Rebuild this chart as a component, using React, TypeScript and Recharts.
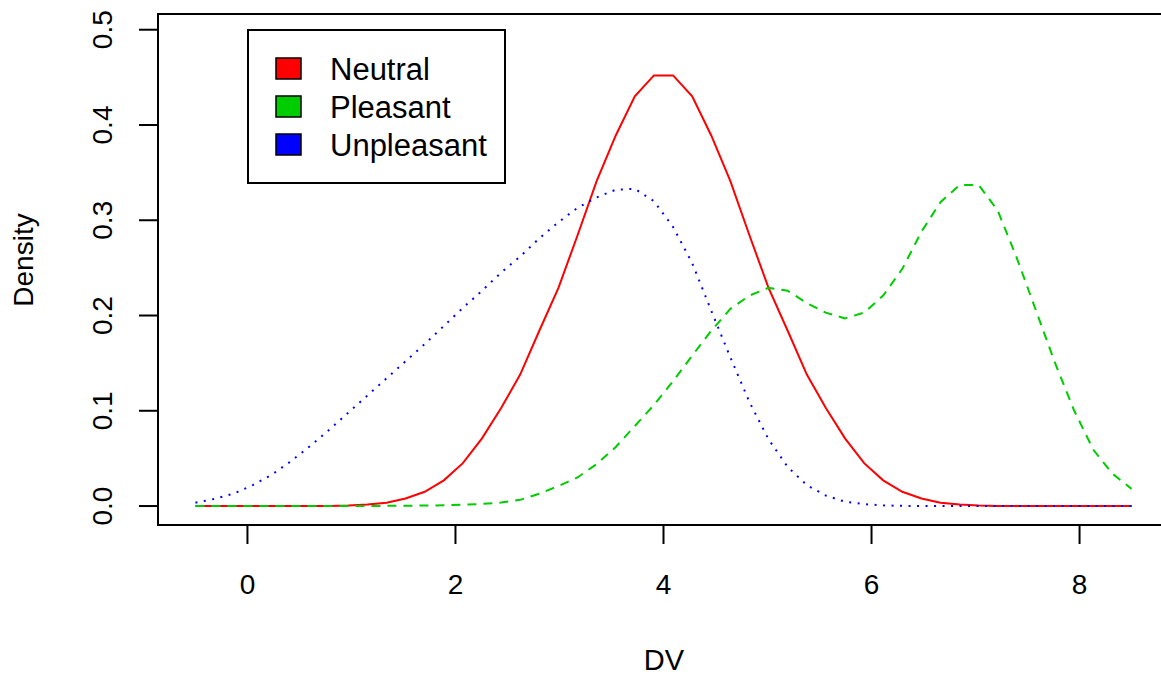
import { Line, LineChart, ReferenceArea, XAxis, YAxis } from "recharts"

// density estimates, 50 points from -0.5 to 8.5
const dv = [
  -0.5, -0.316, -0.133, 0.051, 0.235, 0.418, 0.602, 0.786, 0.969, 1.153,
  1.337, 1.52, 1.704, 1.888, 2.071, 2.255, 2.439, 2.622, 2.806, 2.99,
  3.173, 3.357, 3.541, 3.724, 3.908, 4.092, 4.276, 4.459, 4.643, 4.827,
  5.01, 5.194, 5.378, 5.561, 5.745, 5.929, 6.112, 6.296, 6.48, 6.663,
  6.847, 7.031, 7.214, 7.398, 7.582, 7.765, 7.949, 8.133, 8.316, 8.5,
]

const neutral = [
  0, 0, 0, 0, 0, 0, 0, 0.0001, 0.0005, 0.0015,
  0.0035, 0.008, 0.015, 0.027, 0.045, 0.071, 0.103, 0.138, 0.184, 0.229,
  0.284, 0.341, 0.389, 0.43, 0.452, 0.452, 0.43, 0.389, 0.341, 0.284,
  0.229, 0.184, 0.138, 0.103, 0.071, 0.045, 0.027, 0.015, 0.008, 0.0035,
  0.0015, 0.0005, 0.0001, 0, 0, 0, 0, 0, 0, 0,
]

const pleasant = [
  0, 0, 0, 0, 0, 0, 0, 0, 0, 0.0001,
  0.0002, 0.0003, 0.0005, 0.0008, 0.0013, 0.0022, 0.0036, 0.0065, 0.013, 0.021,
  0.03, 0.044, 0.062, 0.084, 0.106, 0.131, 0.158, 0.184, 0.207, 0.221,
  0.229, 0.226, 0.213, 0.203, 0.197, 0.203, 0.221, 0.249, 0.288, 0.319,
  0.337, 0.337, 0.31, 0.26, 0.205, 0.15, 0.1, 0.059, 0.034, 0.018,
]

const unpleasant = [
  0.0035, 0.0075, 0.013, 0.022, 0.033, 0.047, 0.063, 0.08, 0.098, 0.116,
  0.134, 0.152, 0.17, 0.189, 0.208, 0.226, 0.245, 0.262, 0.281, 0.298,
  0.313, 0.324, 0.332, 0.333, 0.32, 0.293, 0.255, 0.205, 0.156, 0.109,
  0.07, 0.041, 0.022, 0.011, 0.0045, 0.002, 0.0007, 0.0002, 0.0001, 0,
  0, 0, 0, 0, 0, 0, 0, 0, 0, 0,
]

const xTicks = [0, 2, 4, 6, 8]
const yTicks = [0, 0.1, 0.2, 0.3, 0.4, 0.5]

const groups = [
  { key: "neutral", name: "Neutral", color: "#ff0000", dash: undefined },
  { key: "pleasant", name: "Pleasant", color: "#00cd00", dash: "9 7" },
  { key: "unpleasant", name: "Unpleasant", color: "#0000ff", dash: "2 6.5" },
]

const data = dv.map((x, i) => ({
  dv: x,
  neutral: neutral[i],
  pleasant: pleasant[i],
  unpleasant: unpleasant[i],
}))

const font = "'Liberation Sans', Arial, Helvetica, sans-serif"
const xDomain = [-0.86, 8.86]
const yDomain = [-0.0199, 0.5165]

const XTick = ({ x, payload }: any) => (
  <text x={x} y={594} textAnchor="middle" fontSize={28} fontFamily={font} fill="#000">
    {payload.value}
  </text>
)

const YTick = ({ y, payload }: any) => (
  <text
    x={112}
    y={y}
    transform={`rotate(-90 112 ${y})`}
    textAnchor="middle"
    fontSize={28}
    fontFamily={font}
    fill="#000"
  >
    {payload.value.toFixed(1)}
  </text>
)

export default function App() {
  return (
    <div style={{ position: "relative", width: 1161, height: 678, overflow: "hidden", background: "#fff" }}>
      <style>{"body{margin:0}"}</style>
      <LineChart width={1169} height={678} data={data} margin={{ top: 14, right: 0, bottom: 0, left: 0 }}>
        <XAxis
          dataKey="dv"
          type="number"
          domain={xDomain}
          allowDataOverflow
          ticks={xTicks}
          height={153}
          tickSize={19}
          axisLine={{ stroke: "#000", strokeWidth: 2 }}
          tickLine={{ stroke: "#000", strokeWidth: 2 }}
          tick={<XTick />}
        />
        <YAxis
          type="number"
          domain={yDomain}
          allowDataOverflow
          ticks={yTicks}
          width={158}
          tickSize={19}
          axisLine={{ stroke: "#000", strokeWidth: 2 }}
          tickLine={{ stroke: "#000", strokeWidth: 2 }}
          tick={<YTick />}
        />
        <ReferenceArea
          x1={xDomain[0]}
          x2={xDomain[1]}
          y1={yDomain[0]}
          y2={yDomain[1]}
          fill="none"
          stroke="#000"
          strokeWidth={2}
        />
        {groups.map((g) => (
          <Line
            key={g.key}
            type="linear"
            dataKey={g.key}
            name={g.name}
            stroke={g.color}
            strokeWidth={2}
            strokeDasharray={g.dash}
            dot={false}
            activeDot={false}
            isAnimationActive={false}
          />
        ))}
      </LineChart>
      <svg
        width={1161}
        height={678}
        style={{ position: "absolute", left: 0, top: 0, pointerEvents: "none" }}
        fontFamily={font}
      >
        <text x={33} y={260} transform="rotate(-90 33 260)" textAnchor="middle" fontSize={28} fill="#000">
          Density
        </text>
        <text x={664} y={670} textAnchor="middle" fontSize={29} fill="#000">
          DV
        </text>
        {/* legend */}
        <rect x={248} y={30} width={257} height={153} fill="#fff" stroke="#000" strokeWidth={2} />
        {groups.map((g, i) => (
          <g key={g.key}>
            <rect x={276} y={58 + i * 38} width={25} height={21} fill={g.color} stroke="#000" strokeWidth={1.5} />
            <text x={330} y={80 + i * 38} fontSize={31} fill="#000">
              {g.name}
            </text>
          </g>
        ))}
      </svg>
    </div>
  )
}
